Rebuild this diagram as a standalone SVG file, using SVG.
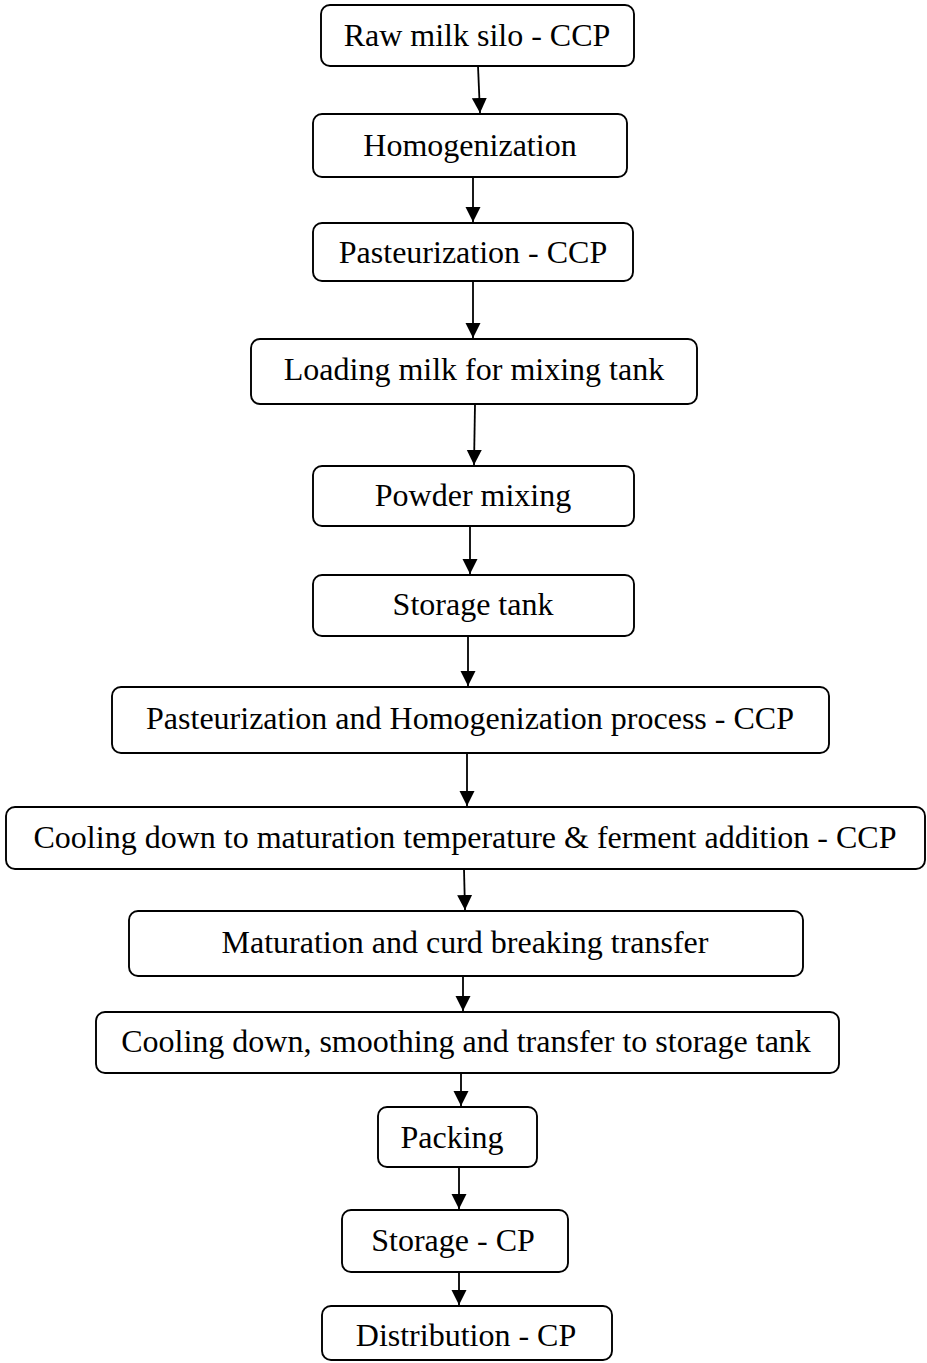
<svg xmlns="http://www.w3.org/2000/svg" width="927" height="1363" viewBox="0 0 927 1363">
<style>
.box{fill:#fff;stroke:#000;stroke-width:1.9}
.lbl{font-family:"Liberation Serif","Times New Roman",serif;font-size:32px;fill:#000;text-anchor:middle}
.con{stroke:#000;stroke-width:1.8;fill:none;marker-end:url(#ah)}
</style>
<defs>
<marker id="ah" markerUnits="userSpaceOnUse" markerWidth="17" markerHeight="16" refX="15" refY="7.5" orient="auto">
<path d="M0,0 L15,7.5 L0,15 z" fill="#000"/>
</marker>
</defs>
<rect width="927" height="1363" fill="#fff"/>
<g id="connectors">
<line class="con" x1="478" y1="66" x2="480" y2="113"/>
<line class="con" x1="473" y1="177" x2="473" y2="222"/>
<line class="con" x1="473" y1="281" x2="473" y2="338"/>
<line class="con" x1="475" y1="404" x2="474" y2="465"/>
<line class="con" x1="470" y1="526" x2="470" y2="574"/>
<line class="con" x1="468" y1="636" x2="468" y2="686"/>
<line class="con" x1="467" y1="753" x2="467" y2="806"/>
<line class="con" x1="464" y1="869" x2="465" y2="910"/>
<line class="con" x1="463" y1="976" x2="463" y2="1011"/>
<line class="con" x1="461" y1="1073" x2="461" y2="1106"/>
<line class="con" x1="459" y1="1167" x2="459" y2="1209"/>
<line class="con" x1="459" y1="1272" x2="459" y2="1305"/>
</g>
<g id="n1"><rect class="box" x="321" y="5" width="313" height="61" rx="9"/><text class="lbl" x="477" y="46">Raw milk silo - CCP</text></g>
<g id="n2"><rect class="box" x="313" y="114" width="314" height="63" rx="9"/><text class="lbl" x="470" y="156">Homogenization</text></g>
<g id="n3"><rect class="box" x="313" y="223" width="320" height="58" rx="9"/><text class="lbl" x="473" y="263">Pasteurization - CCP</text></g>
<g id="n4"><rect class="box" x="251" y="339" width="446" height="65" rx="9"/><text class="lbl" x="474" y="380">Loading milk for mixing tank</text></g>
<g id="n5"><rect class="box" x="313" y="466" width="321" height="60" rx="9"/><text class="lbl" x="473" y="506">Powder mixing</text></g>
<g id="n6"><rect class="box" x="313" y="575" width="321" height="61" rx="9"/><text class="lbl" x="473" y="615">Storage tank</text></g>
<g id="n7"><rect class="box" x="112" y="687" width="717" height="66" rx="9"/><text class="lbl" x="470" y="729">Pasteurization and Homogenization process - CCP</text></g>
<g id="n8"><rect class="box" x="6" y="807" width="919" height="62" rx="9"/><text class="lbl" x="465" y="848">Cooling down to maturation temperature &amp; ferment addition - CCP</text></g>
<g id="n9"><rect class="box" x="129" y="911" width="674" height="65" rx="9"/><text class="lbl" x="465" y="953">Maturation and curd breaking transfer</text></g>
<g id="n10"><rect class="box" x="96" y="1012" width="743" height="61" rx="9"/><text class="lbl" x="466" y="1052">Cooling down, smoothing and transfer to storage tank</text></g>
<g id="n11"><rect class="box" x="378" y="1107" width="159" height="60" rx="9"/><text class="lbl" x="452" y="1148">Packing</text></g>
<g id="n12"><rect class="box" x="342" y="1210" width="226" height="62" rx="9"/><text class="lbl" x="453" y="1251">Storage - CP</text></g>
<g id="n13"><rect class="box" x="322" y="1306" width="290" height="54" rx="9"/><text class="lbl" x="466" y="1346">Distribution - CP</text></g>
</svg>
